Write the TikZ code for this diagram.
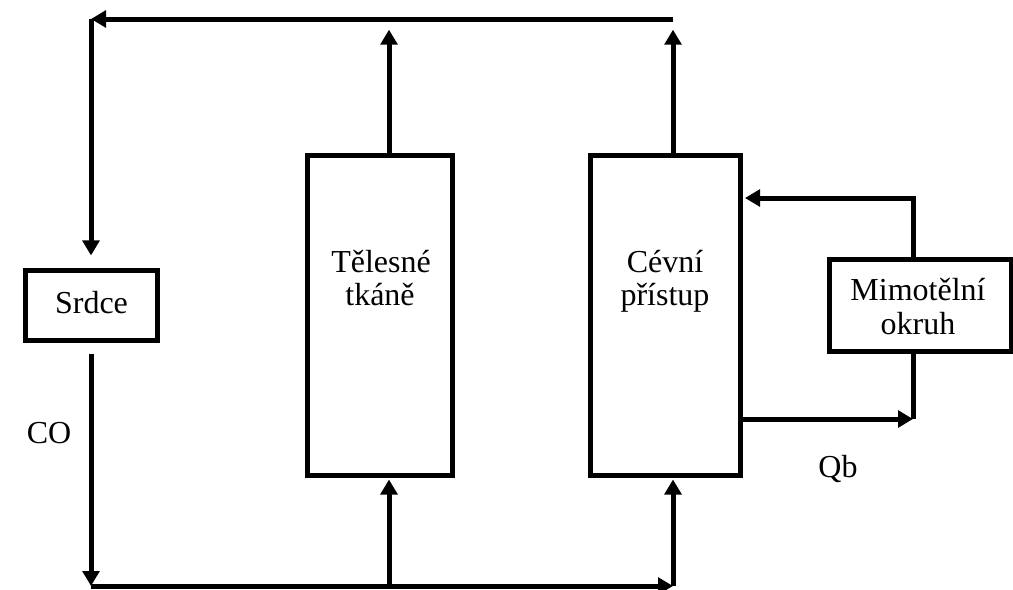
\documentclass[tikz,border=0pt]{standalone}
\usepackage{fontspec}
\setmainfont{Liberation Serif}
\usetikzlibrary{arrows.meta}
\begin{document}
\begin{tikzpicture}[x=0.75pt,y=-0.75pt,
    box/.style={draw, line width=3.75pt, inner sep=0pt},
    txt/.style={font=\fontsize{24}{25}\selectfont, inner sep=0pt},
    flow/.style={line width=3.75pt, -{Triangle[length=11.25pt,width=12.5pt]}},
    wire/.style={line width=3.75pt}]
    \useasboundingbox (0,0) rectangle (1013,589);

    % boxes
    \node[box, minimum width=99pt, minimum height=52.5pt] (srdce) at (91,305.5) {};
    \node[box, minimum width=108.75pt, minimum height=240pt] (tkane) at (380,315) {};
    \node[box, minimum width=112.5pt, minimum height=240pt] (cevni) at (665.5,315) {};
    \node[box, minimum width=136.5pt, minimum height=69pt] (okruh) at (920,305) {};

    % texts
    \node[txt, anchor=base] (srdcetext) at (91.5,313) {Srdce};
    \node[txt, anchor=base] (tkanetext) at (381,272) {Tělesné};
    \node[txt, anchor=base] (tkanetextb) at (380,305) {tkáně};
    \node[txt, anchor=base] (cevnitext) at (665,272) {Cévní};
    \node[txt, anchor=base] (cevnitextb) at (665,305) {přístup};
    \node[txt, anchor=base] (okruhtext) at (918,300) {Mimotělní};
    \node[txt, anchor=base] (okruhtextb) at (918,334) {okruh};
    \node[txt, anchor=base] (co) at (49,443) {CO};
    \node[txt, anchor=base] (qb) at (838,477) {Qb};

    % corners of the loop
    \coordinate (topL) at (91,19);
    \coordinate (topR) at (673,19);
    \coordinate (botL) at (91,586);
    \coordinate (botA) at (389,586);
    \coordinate (botR) at (673,586);
    \coordinate (upA) at (389,19);
    \coordinate (mimoT) at (913,198);
    \coordinate (mimoB) at (913,419);

    % main loop
    \draw[flow] (topR) -- (topL);
    \draw[flow, shorten >=9.4pt] (topL) -- (srdce.north);
    \draw[flow, shorten <=8.6pt] (srdce.south) -- (botL);
    \draw[flow] (botL) -- (botR);
    \draw[flow, shorten >=1.5pt] (botA) -- (botA |- tkane.south);
    \draw[flow, shorten >=1.5pt] (botR) -- (botR |- cevni.south);
    \draw[flow, shorten >=8pt] (upA |- tkane.north) -- (upA);
    \draw[flow, shorten >=8pt] (topR |- cevni.north) -- (topR);

    % extracorporeal circuit
    \draw[flow, shorten >=1.5pt] (okruh.north -| mimoT) -- (mimoT) -- (mimoT -| cevni.east);
    \draw[flow] (cevni.east |- mimoB) -- (mimoB);
    \draw[wire] (okruh.south -| mimoB) -- (mimoB);
\end{tikzpicture}
\end{document}
